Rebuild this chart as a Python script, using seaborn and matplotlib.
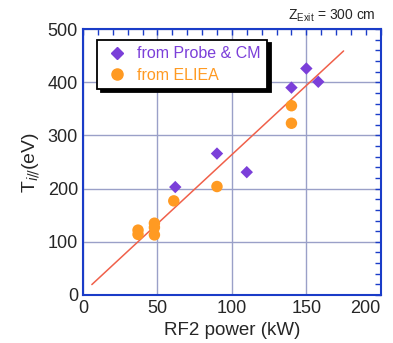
import numpy as np
import pandas as pd
import matplotlib
matplotlib.use("Agg")
import matplotlib.pyplot as plt
from matplotlib.ticker import MultipleLocator
import seaborn as sns

# Data
probe_power = [62, 90, 110, 140, 150, 158]
probe_temp = [203, 266, 231, 390, 426, 401]

eliea_power = [37, 37, 48, 48, 48, 61, 90, 140, 140]
eliea_temp = [114, 122, 113, 127, 135, 177, 204, 323, 356]

fit_power = [6, 175]
fit_intercept = 4.0
fit_slope = 2.6

x_ticks = [0, 50, 100, 150, 200]
y_ticks = [0, 100, 200, 300, 400, 500]

labels = ["from Probe & CM", "from ELIEA"]
colors = ["#7b3fd9", "#ff9a22"]

sns.set_style("white")
plt.rcParams['font.family'] = ['Liberation Sans', 'DejaVu Sans']

df = pd.DataFrame({
    'power': probe_power + eliea_power,
    'temp': probe_temp + eliea_temp,
    'source': [labels[0]] * len(probe_power) + [labels[1]] * len(eliea_power),
})

fig = plt.figure(figsize=(3.93, 3.43), dpi=100)
ax = fig.add_axes([0.211, 0.140, 0.758, 0.775])

# fitted line
fx = np.array(fit_power)
sns.lineplot(x=fx, y=fit_intercept + fit_slope * fx, ax=ax, color='#f0604a', lw=1.1, zorder=2)

sns.scatterplot(data=df, x='power', y='temp', hue='source', style='source', size='source',
                markers={labels[0]: 'D', labels[1]: 'o'},
                sizes={labels[0]: 40, labels[1]: 68},
                palette=dict(zip(labels, colors)),
                edgecolor='none', ax=ax, zorder=3, legend=False)

ax.set_xlim(0, 200)
ax.set_ylim(0, 500)
ax.set_xticks(x_ticks)
ax.set_yticks(y_ticks)
ax.xaxis.set_minor_locator(MultipleLocator(10))
ax.yaxis.set_minor_locator(MultipleLocator(20))
ax.tick_params(which='both', direction='in', top=True, right=True, length=4,
               width=1, color='#1a3cc8', labelsize=13)
ax.grid(True, which='major', color='#9aa0c8', lw=1)
ax.set_axisbelow(True)
for sp in ax.spines.values():
    sp.set_color('#1a3cc8')
    sp.set_linewidth(1.5)

# keep the last x tick label inside the figure
ax.get_xticklabels()[-1].set_horizontalalignment('right')

ax.set_xlabel('RF2 power (kW)', fontsize=13.5)
ax.set_ylabel(r'T$_{i/\!/}$(eV)', fontsize=14)

handles = [
    plt.Line2D([], [], marker='D', ls='none', color=colors[0], markersize=6.5),
    plt.Line2D([], [], marker='o', ls='none', color=colors[1], markersize=8),
]
leg = ax.legend(handles=handles, labels=labels, loc='upper left',
                bbox_to_anchor=(0.022, 0.99), fontsize=11.5, frameon=True,
                fancybox=False, edgecolor='black', framealpha=1,
                shadow={'color': 'black', 'alpha': 1, 'ox': 2.5, 'oy': -2.5},
                handletextpad=0.5, borderpad=0.4, labelspacing=0.4, handlelength=1.6)
leg.get_frame().set_linewidth(1.3)
for txt, c in zip(leg.get_texts(), colors):
    txt.set_color(c)

fig.text(0.955, 0.955, r'Z$_{\mathregular{Exit}}$ = 300 cm', ha='right', va='center', fontsize=10)

fig.savefig('out.png', dpi=100)
